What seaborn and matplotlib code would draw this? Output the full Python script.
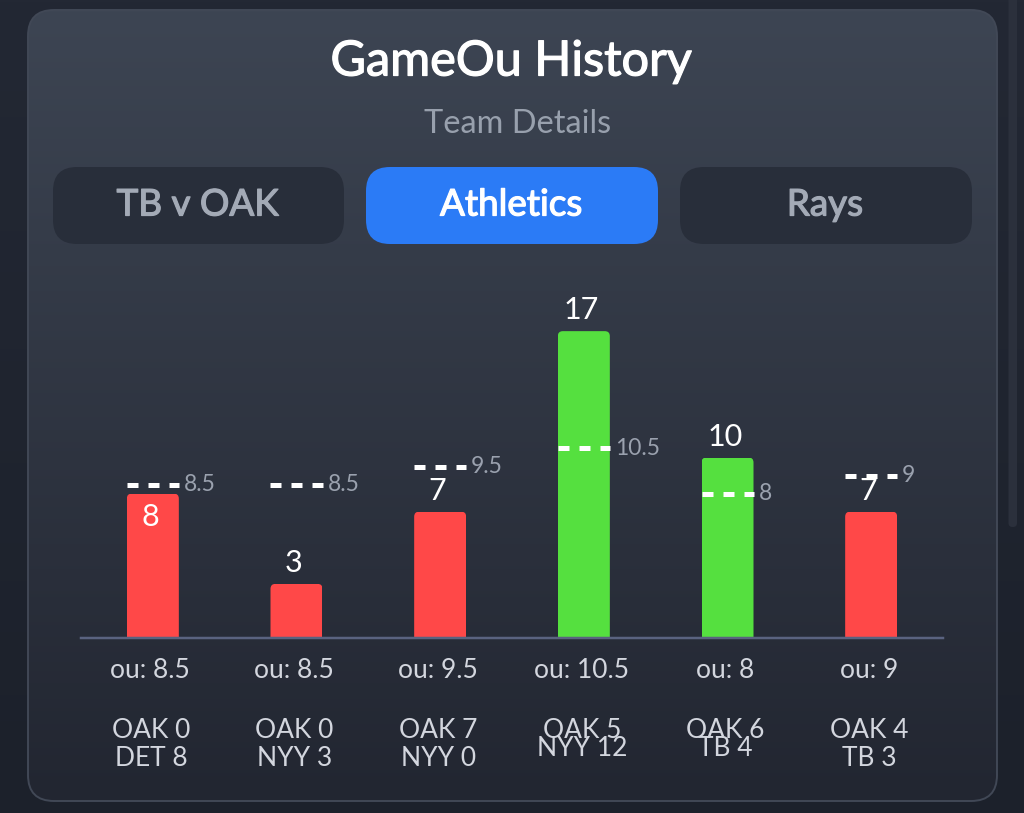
import numpy as np
import pandas as pd
import matplotlib
matplotlib.use("Agg")
import matplotlib.pyplot as plt
import matplotlib.patheffects as pe
import seaborn as sns
from matplotlib.patches import FancyBboxPatch
from matplotlib.transforms import IdentityTransform, ScaledTranslation

TITLE = "GameOu History"
SUBTITLE = "Team Details"
TABS = ["TB v OAK", "Athletics", "Rays"]
games = ["g1", "g2", "g3", "g4", "g5", "g6"]
totals = [8, 3, 7, 17, 10, 7]
ou_lines = [8.5, 8.5, 9.5, 10.5, 8, 9]
ou_text = ["8.5", "8.5", "9.5", "10.5", "8", "9"]
team_line = ["OAK 0", "OAK 0", "OAK 7", "OAK 5", "OAK 6", "OAK 4"]
opp_line = ["DET 8", "NYY 3", "NYY 0", "NYY 12", "TB 4", "TB 3"]
total_text = ["8", "3", "7", "17", "10", "7"]

W, H = 1024, 813
FONT = "Lato"
sns.set_theme(style="white")
plt.rcParams["font.family"] = [FONT, "DejaVu Sans"]
px = 0.72  # points per pixel at dpi 100

fig = plt.figure(figsize=(W / 100, H / 100), dpi=100)
fig.patch.set_facecolor("#1f2430")

# page / card background in pixel coordinates
bg = fig.add_axes([0, 0, 1, 1], zorder=0)
bg.set_xlim(0, W)
bg.set_ylim(H, 0)
bg.axis("off")


def lerp_img(c1, c2):
    a, b = np.array(matplotlib.colors.to_rgb(c1)), np.array(matplotlib.colors.to_rgb(c2))
    t = np.linspace(0, 1, 256)[:, None, None]
    return a + (b - a) * t


def round_box(x0, y0, x1, y1, r, **kw):
    p = FancyBboxPatch((x0 + r, y0 + r), x1 - x0 - 2 * r, y1 - y0 - 2 * r,
                       boxstyle=f"round,pad={r},rounding_size={r}", **kw)
    bg.add_patch(p)
    return p


def heavier(color, width=0.9):
    return [pe.withStroke(linewidth=width, foreground=color)]


bg.imshow(lerp_img("#232834", "#1c212b"), extent=(0, W, H, 0), aspect="auto", zorder=0)
# scrollbar
round_box(1008.5, -10, 1017, 527, 4, fc="#2b303c", ec="none", zorder=1)
# card
card = round_box(28, 10, 997, 801, 26, fc="none", ec="#414856", lw=1.4, zorder=3)
grad = bg.imshow(lerp_img("#3d4553", "#222631"), extent=(28, 997, 801, 10), aspect="auto", zorder=2)
grad.set_clip_path(card)
bg.set_xlim(0, W)
bg.set_ylim(H, 0)

# tabs
tab_boxes = [(53, 344), (366, 658), (680, 972)]
for (x0, x1), lab, active in zip(tab_boxes, TABS, [False, True, False]):
    col = "white" if active else "#a3aab6"
    round_box(x0, 167, x1, 244, 24, fc="#2b7bf6" if active else "#282e3a", ec="none", zorder=4)
    bg.text((x0 + x1) / 2 - 1, 205, lab, ha="center", va="center", fontsize=26.5,
            color=col, zorder=5, path_effects=heavier(col))

bg.text(511, 61.5, TITLE, ha="center", va="center", fontsize=35, color="white", zorder=5,
        path_effects=heavier("white"))
bg.text(517.5, 124, SUBTITLE, ha="center", va="center", fontsize=23.4, color="#98a0ad", zorder=5)

# chart
df = pd.DataFrame({
    "game": games,
    "total": totals,
    "result": ["over" if t > o else "under" for t, o in zip(totals, ou_lines)],
})
base_y = 638
top_y = 277
ax = fig.add_axes([81 / W, (H - base_y) / H, 862 / W, (base_y - top_y) / H], zorder=1)
ax.patch.set_alpha(0)
BAR_W = 52 / (862 / 6)
sns.barplot(data=df, x="game", y="total", hue="result", order=games,
            palette={"over": "#55e03f", "under": "#ff4848"}, dodge=False,
            width=BAR_W, saturation=1, legend=False, ax=ax, linewidth=0)
ax.set_xlim(-0.5, 5.5)
ax.set_ylim(0, 20)
ax.set_xlabel("")
ax.set_ylabel("")
ax.set_yticks([])
for s in ["top", "left", "right"]:
    ax.spines[s].set_visible(False)
ax.spines["bottom"].set_color("#5a6380")
ax.spines["bottom"].set_linewidth(2.5 * px)
ax.spines["bottom"].set_zorder(4)

# rounded tops on the bars, 5 px radius
for bar in ax.patches:
    bb = bar.get_window_extent()
    if bb.height <= 0:
        continue
    r = 5
    clip = FancyBboxPatch((bb.x0 + r, bb.y0 - 20), bb.width - 2 * r, bb.height + 20 - r,
                          boxstyle=f"round,pad={r},rounding_size={r}", transform=IdentityTransform())
    bar.set_clip_path(clip)

# over/under tick labels
ax.set_xticks(range(len(games)))
ax.set_xticklabels([f"ou: {t}" for t in ou_text], fontsize=19, color="#d3d6de")
ax.tick_params(axis="x", length=0, pad=14.5)
for lab in ax.get_xticklabels():
    lab.set_transform(lab.get_transform() + ScaledTranslation(-2.5 / 72 * px, 0, fig.dpi_scale_trans))

for i, (tot, ou) in enumerate(zip(totals, ou_lines)):
    # dashed over/under marker
    ax.plot([i - BAR_W / 2, i + BAR_W / 2], [ou, ou], color="white", lw=5 * px,
            linestyle=(0, (2.2, 2.0)), dash_capstyle="butt", zorder=5)
    ax.annotate(ou_text[i], xy=(i + BAR_W / 2, ou), xytext=(5 * px, 0), textcoords="offset points",
                ha="left", va="center", fontsize=16.5, color="#9aa1ae", zorder=6)
    # game total: sits inside the bar when the marker leaves no room above it
    inside = 0 < ou - tot < 1
    ax.annotate(total_text[i], xy=(i, tot), xytext=(-2.5 * px, (-23 if inside else 21) * px),
                textcoords="offset points", ha="center", va="center", fontsize=22,
                color="white", zorder=7)
    # score lines
    ax.annotate(team_line[i], xy=(i, 0), xytext=(-2 * px, -92 * px), textcoords="offset points",
                ha="center", va="center", fontsize=19, color="#d3d6de", annotation_clip=False)
    tight = i in (3, 4)
    ax.annotate(opp_line[i], xy=(i, 0), xytext=(-2 * px, (-110.5 if tight else -120.5) * px),
                textcoords="offset points", ha="center", va="center", fontsize=19,
                color="#d3d6de", annotation_clip=False)

fig.savefig("out.png", dpi=100, facecolor=fig.get_facecolor())
